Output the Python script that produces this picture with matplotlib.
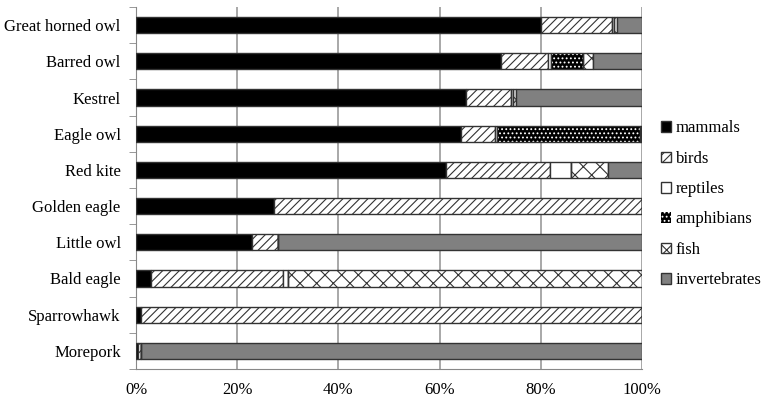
import matplotlib
matplotlib.use("Agg")
import matplotlib.pyplot as plt
import numpy as np

plt.rcParams['font.family'] = ['Liberation Serif', 'DejaVu Serif']
plt.rcParams['hatch.linewidth'] = 0.8

species = ["Great horned owl", "Barred owl", "Kestrel", "Eagle owl", "Red kite",
           "Golden eagle", "Little owl", "Bald eagle", "Sparrowhawk", "Morepork"]
mammals      = [80.0, 72.1, 65.3, 64.2, 61.2, 27.2, 23.0, 3.0, 1.05, 0.3]
birds        = [14.1, 9.4, 8.9, 6.7, 20.7, 72.8, 5.1, 26.0, 98.95, 0.7]
reptiles     = [0.3, 0.5, 0.4, 0.4, 4.1, 0.0, 0.0, 1.0, 0.0, 0.0]
amphibians   = [0.0, 6.3, 0.0, 28.4, 0.0, 0.0, 0.0, 0.0, 0.0, 0.0]
fish         = [0.7, 2.0, 0.5, 0.1, 7.2, 0.0, 0.0, 70.0, 0.0, 0.0]
invertebrates= [4.9, 9.7, 24.9, 0.2, 6.8, 0.0, 71.9, 0.0, 0.0, 99.0]

series = [("mammals", mammals), ("birds", birds), ("reptiles", reptiles),
          ("amphibians", amphibians), ("fish", fish), ("invertebrates", invertebrates)]
styles = {
    "mammals":       dict(facecolor="black", edgecolor="#333333", hatch=None),
    "birds":         dict(facecolor="white", edgecolor="#333333", hatch="////"),
    "reptiles":      dict(facecolor="white", edgecolor="#333333", hatch=None),
    "amphibians":    dict(facecolor="black", edgecolor="white", hatch="...."),
    "fish":          dict(facecolor="white", edgecolor="#333333", hatch="xx"),
    "invertebrates": dict(facecolor="#808080", edgecolor="#333333", hatch=None),
}

fig = plt.figure(figsize=(7.64, 4.0), dpi=100)
ax = fig.add_axes([136/764, 1-369/400, (642-136)/764, (369-7)/400])

y = np.arange(len(species))
h = 0.45
left = np.zeros(len(species))
for name, vals in series:
    vals = np.array(vals)
    st = styles[name]
    ax.barh(y, vals, left=left, height=h, facecolor=st["facecolor"],
            edgecolor=st["edgecolor"], hatch=st["hatch"],
            linewidth=0.0 if name == "amphibians" else 1.0,
            label=name, zorder=3)
    if name == "amphibians":
        ax.barh(y, vals, left=left, height=h, fill=False, edgecolor="#333333",
                linewidth=1.0, zorder=4)
    left = left + vals

ax.set_xlim(0, 100)
ax.set_ylim(len(species) - 0.5, -0.5)
ax.set_xticks(np.arange(0, 101, 20))
ax.set_xticklabels([f"{v}%" for v in range(0, 101, 20)], fontsize=12)
ax.set_yticks(y)
ax.set_yticklabels(species, fontsize=12)
ax.set_yticks(np.arange(-0.5, len(species), 1), minor=True)
ax.tick_params(axis='y', which='major', length=0, pad=11)
ax.tick_params(axis='y', which='minor', length=5, color='#888888', direction='out')
ax.tick_params(axis='x', length=0, pad=9)
ax.grid(axis='x', color='#999999', linewidth=1.2, zorder=0)
for s in ['top', 'right']:
    ax.spines[s].set_visible(False)
ax.spines['left'].set_color('#888888')
ax.spines['bottom'].set_color('#888888')

ax.legend(loc='center left', bbox_to_anchor=(1.024, 0.455), frameon=False, fontsize=12,
          handlelength=0.6, handleheight=0.6, handletextpad=0.3, labelspacing=0.86,
          borderaxespad=0)

fig.savefig("out.png", dpi=100)
